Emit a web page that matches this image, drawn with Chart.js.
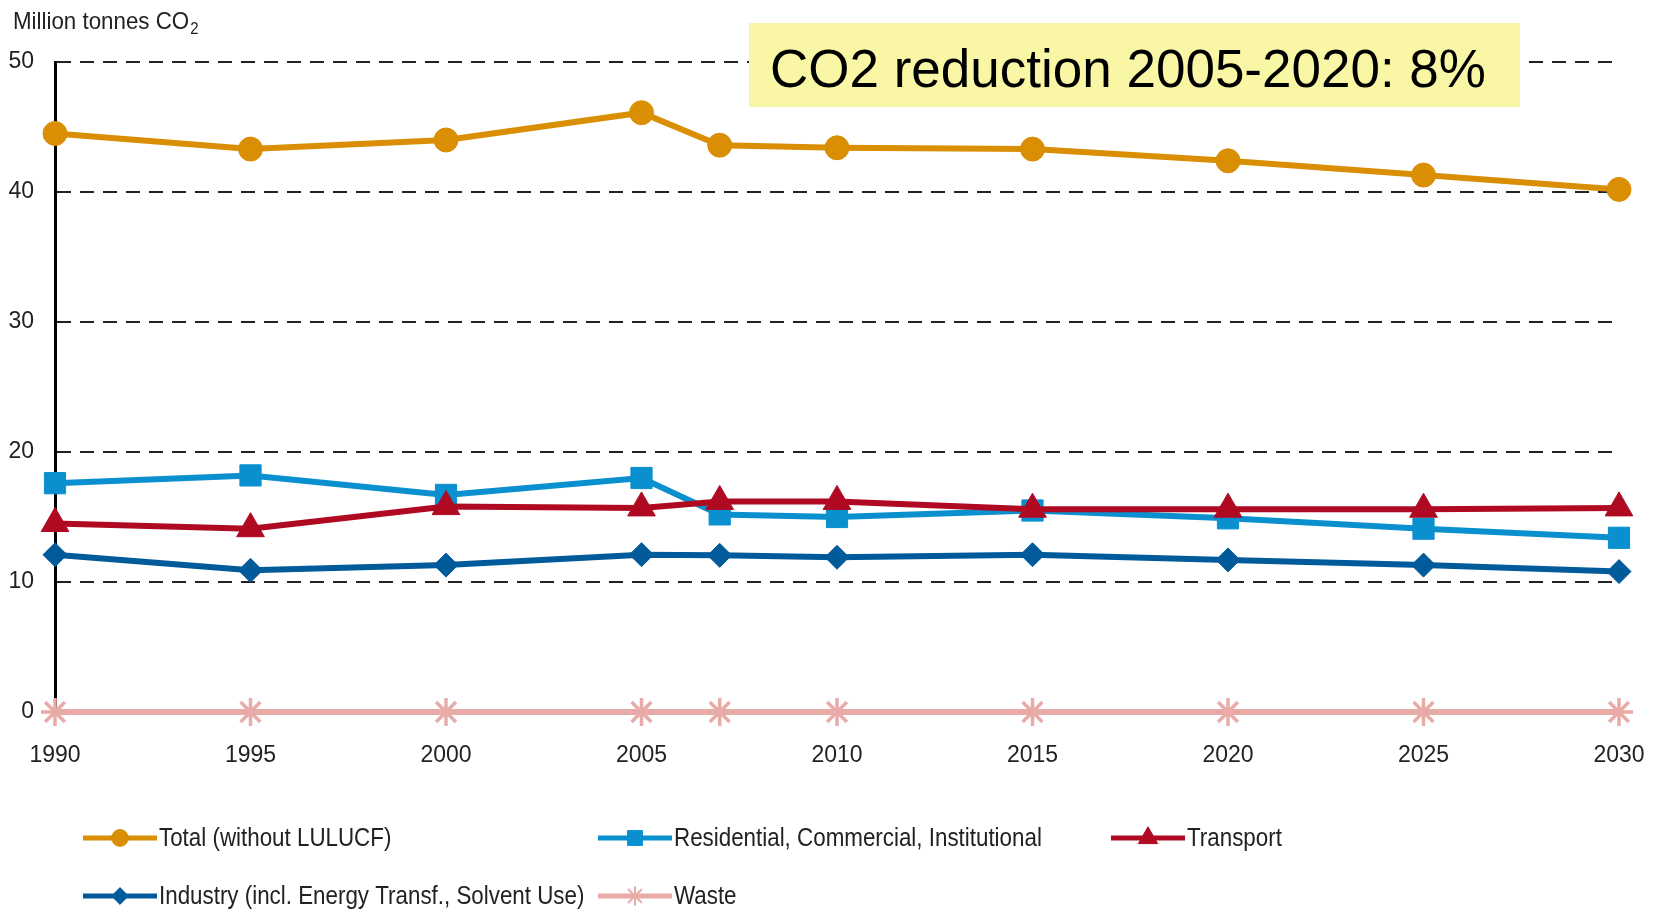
<!DOCTYPE html>
<html>
<head>
<meta charset="utf-8">
<title>CO2 emissions by sector</title>
<script src="https://cdn.jsdelivr.net/npm/chart.js@4/dist/chart.umd.min.js"></script>
<style>
    html, body { margin: 0; padding: 0; background: #fff; }
    #wrap { position: relative; width: 1659px; height: 911px; }
</style>
</head>
<body>
<div id="wrap"><canvas id="co2Chart" width="1659" height="911"></canvas></div>
<script>
// Data (million tonnes CO2)
const years = [1990, 1995, 2000, 2005, 2007, 2010, 2015, 2020, 2025, 2030];
const total = [44.5, 43.3, 44.0, 46.1, 43.6, 43.4, 43.3, 42.4, 41.3, 40.2];
const residential = [17.6, 18.2, 16.7, 18.0, 15.2, 15.0, 15.5, 14.9, 14.1, 13.4];
const transport = [14.5, 14.1, 15.8, 15.7, 16.2, 16.2, 15.6, 15.6, 15.6, 15.7];
const industry = [12.1, 10.9, 11.3, 12.1, 12.05, 11.9, 12.1, 11.7, 11.3, 10.8];
const waste = [0, 0, 0, 0, 0, 0, 0, 0, 0, 0];

const xTicks = [1990, 1995, 2000, 2005, 2010, 2015, 2020, 2025, 2030];
const yTicks = [0, 10, 20, 30, 40, 50];

const seriesNames = [
    'Total (without LULUCF)',
    'Residential, Commercial, Institutional',
    'Transport',
    'Industry (incl. Energy Transf., Solvent Use)',
    'Waste'
];
const annotationText = 'CO2 reduction 2005-2020: 8%';

const SANS = '"Liberation Sans", Arial, sans-serif';

function toPoints(values) {
    return years.map(function(y, i) { return { x: y, y: values[i] }; });
}

function makeDataset(label, values, color, style, radius, order) {
    return {
        label: label,
        data: toPoints(values),
        borderColor: color,
        backgroundColor: color,
        pointBackgroundColor: color,
        pointBorderColor: color,
        pointStyle: style,
        pointRadius: radius,
        pointHoverRadius: radius,
        pointBorderWidth: style === 'star' ? 3.5 : 1,
        borderWidth: 6,
        tension: 0,
        fill: false,
        clip: false,
        order: order
    };
}

// draw text squeezed horizontally, to mimic the narrow font of the original
function narrowText(ctx, text, x, y, squeeze) {
    ctx.save();
    ctx.translate(x, y);
    ctx.scale(squeeze, 1);
    ctx.fillText(text, 0, 0);
    ctx.restore();
    return ctx.measureText(text).width * squeeze;
}

// Custom legend + annotation + axis title
const decorPlugin = {
    id: 'decor',
    afterDraw: function(chart) {
        const ctx = chart.ctx;
        ctx.save();

        // axis title with subscript
        ctx.fillStyle = '#222';
        ctx.textBaseline = 'alphabetic';
        ctx.textAlign = 'left';
        ctx.font = '24px ' + SANS;
        const tw = narrowText(ctx, 'Million tonnes CO', 13, 29, 0.93);
        ctx.font = '16px ' + SANS;
        narrowText(ctx, '2', 13 + tw + 1, 34, 0.93);

        // yellow annotation box
        ctx.fillStyle = '#F9F7A5';
        ctx.fillRect(749, 23, 771, 84);
        ctx.fillStyle = '#000';
        ctx.font = '53px ' + SANS;
        ctx.fillText(annotationText, 770, 87);

        // legend
        const slots = [
            { x: 83, y: 838 }, { x: 598, y: 838 }, { x: 1111, y: 838 },
            { x: 83, y: 896 }, { x: 598, y: 896 }
        ];
        const byLabel = {};
        chart.data.datasets.forEach(function(ds) { byLabel[ds.label] = ds; });
        seriesNames.forEach(function(name, i) {
            const ds = byLabel[name];
            const s = slots[i];
            ctx.strokeStyle = ds.borderColor;
            ctx.lineWidth = 5;
            ctx.setLineDash([]);
            ctx.beginPath();
            ctx.moveTo(s.x, s.y);
            ctx.lineTo(s.x + 74, s.y);
            ctx.stroke();
            ctx.fillStyle = ds.borderColor;
            ctx.lineWidth = ds.pointStyle === 'star' ? 2 : 1;
            const r = Math.max(8, ds.pointRadius * 0.7);
            Chart.helpers.drawPoint(ctx, {
                pointStyle: ds.pointStyle,
                radius: r,
                rotation: 0,
                borderWidth: ctx.lineWidth
            }, s.x + 37, s.y);
            ctx.fillStyle = '#222';
            ctx.font = '26px ' + SANS;
            ctx.textBaseline = 'middle';
            narrowText(ctx, name, s.x + 76, s.y + 1, 0.86);
        });
        ctx.restore();
    }
};

document.addEventListener('DOMContentLoaded', function() {
    const ctx = document.getElementById('co2Chart').getContext('2d');
    new Chart(ctx, {
        type: 'line',
        data: {
            datasets: [
                makeDataset(seriesNames[0], total, '#D98E04', 'circle', 12, 1),
                makeDataset(seriesNames[1], residential, '#0A90CF', 'rect', 15, 3),
                makeDataset(seriesNames[2], transport, '#AF0A22', 'triangle', 16, 2),
                makeDataset(seriesNames[3], industry, '#015B9B', 'rectRot', 12, 4),
                makeDataset(seriesNames[4], waste, '#E8ABA8', 'star', 14, 5)
            ]
        },
        options: {
            responsive: false,
            animation: false,
            events: [],
            layout: {
                padding: { left: 0, right: 40, top: 62, bottom: 139 }
            },
            plugins: {
                legend: { display: false },
                tooltip: { enabled: false }
            },
            scales: {
                x: {
                    type: 'linear',
                    min: 1990,
                    max: 2030,
                    afterBuildTicks: function(scale) {
                        scale.ticks = xTicks.map(function(v) { return { value: v }; });
                    },
                    afterFit: function(scale) {
                        scale.height = 60;
                        scale.paddingLeft = 0;
                        scale.paddingRight = 0;
                    },
                    grid: { display: false, drawTicks: false },
                    border: { display: false },
                    ticks: {
                        padding: 30,
                        color: '#222',
                        font: { family: SANS, size: 23 },
                        callback: function(v) { return String(v); }
                    }
                },
                y: {
                    min: 0,
                    max: 50,
                    afterBuildTicks: function(scale) {
                        scale.ticks = yTicks.map(function(v) { return { value: v }; });
                    },
                    afterFit: function(scale) { scale.width = 55; },
                    grid: {
                        drawTicks: false,
                        lineWidth: 2,
                        color: function(c) {
                            return c.tick && c.tick.value === 0 ? 'rgba(0,0,0,0)' : '#222';
                        }
                    },
                    border: { display: true, color: '#000', width: 3, dash: [14, 9] },
                    ticks: {
                        padding: 21,
                        color: '#222',
                        font: { family: SANS, size: 23 },
                        callback: function(v) { return String(v); }
                    }
                }
            }
        },
        plugins: [decorPlugin]
    });
});
</script>
</body>
</html>
